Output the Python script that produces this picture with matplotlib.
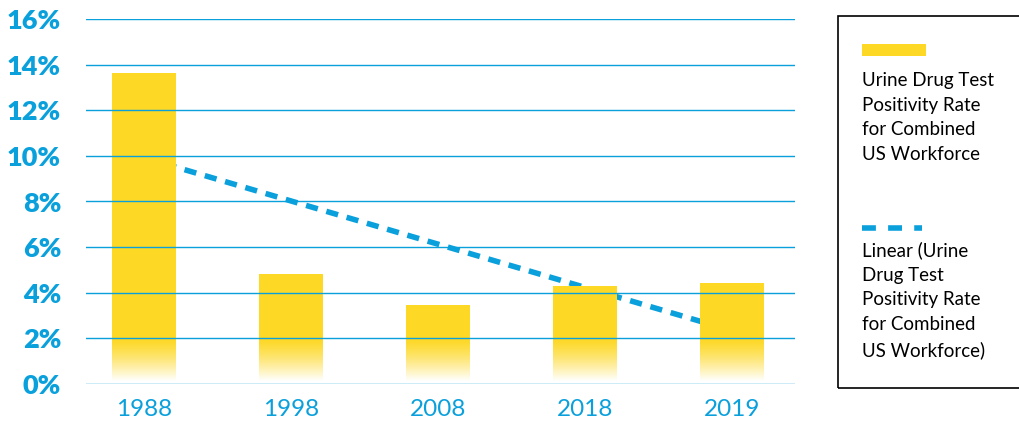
import numpy as np
import matplotlib
matplotlib.use("Agg")
from matplotlib import pyplot as plt
from matplotlib.patches import Rectangle
from matplotlib.lines import Line2D

years = ["1988", "1998", "2008", "2018", "2019"]
rates = [13.64, 4.82, 3.46, 4.30, 4.43]
yticks = [0, 2, 4, 6, 8, 10, 12, 14, 16]
legend_bar = "Urine Drug Test\nPositivity Rate\nfor Combined\nUS Workforce"
legend_trend = "Linear (Urine\nDrug Test\nPositivity Rate\nfor Combined\nUS Workforce)"

YELLOW = "#FDD825"
BLUE = "#0AA0DC"

plt.rcParams['font.family'] = ['Lato', 'DejaVu Sans']

fig = plt.figure(figsize=(10.2, 4.23), dpi=100)
ax = fig.add_axes([86/1020, 39/423, 709/1020, 365/423])

x = np.arange(len(years))
width = 0.435

# linear trend, drawn behind the bars
slope, icpt = np.polyfit(x, rates, 1)
ax.plot(x, slope*x + icpt, color=BLUE, lw=4, ls=(0, (2.2, 1.6)), zorder=1)

bars = ax.bar(x, rates, width=width, color=YELLOW, zorder=2)

# fade the bottom of each bar to white
fade = np.zeros((64, 2, 4))
fade[..., :3] = 1.0
fade[..., 3] = np.linspace(1, 0, 64)[:, None] ** 1.3
for b in bars:
    x0 = b.get_x()
    ax.imshow(fade, extent=[x0, x0 + width, 0.15, 2.0], origin='lower',
              aspect='auto', zorder=3, interpolation='bilinear')
    ax.add_patch(Rectangle((x0, 0), width, 0.15, color='white', zorder=3, lw=0))

for t in yticks:
    ax.axhline(t, color=BLUE, lw=1.0, zorder=4)

ax.set_xlim(-0.395, 4.43)
ax.set_ylim(0, 16)
ax.set_yticks(yticks)
ax.set_yticklabels(["{}%".format(t) for t in yticks], fontsize=19.5,
                   fontweight='heavy', color=BLUE)
ax.set_xticks(x)
ax.set_xticklabels(years, fontsize=17.5, color=BLUE)
ax.tick_params(axis='y', length=0, pad=18)
ax.tick_params(axis='x', length=0, pad=11)
for s in ax.spines.values():
    s.set_visible(False)

# legend box
fig.patches.append(Rectangle((838/1020, 35/423), 200/1020, 372/423,
                             transform=fig.transFigure, fill=False,
                             edgecolor='black', lw=1.2))
fig.patches.append(Rectangle((862/1020, (423-56)/423), 64/1020, 12/423,
                             transform=fig.transFigure, color=YELLOW, lw=0))
fig.lines.append(Line2D([862/1020, 922/1020], [(423-228)/423]*2,
                        transform=fig.transFigure, color=BLUE, lw=4,
                        ls=(0, (2.5, 2.2))))
fig.text(862/1020, (423-72)/423, legend_bar, fontsize=13.5, va='top',
         ha='left', linespacing=1.55)
fig.text(862/1020, (423-241)/423, legend_trend, fontsize=13.5, va='top',
         ha='left', linespacing=1.55)

fig.savefig("out.png", dpi=100)
